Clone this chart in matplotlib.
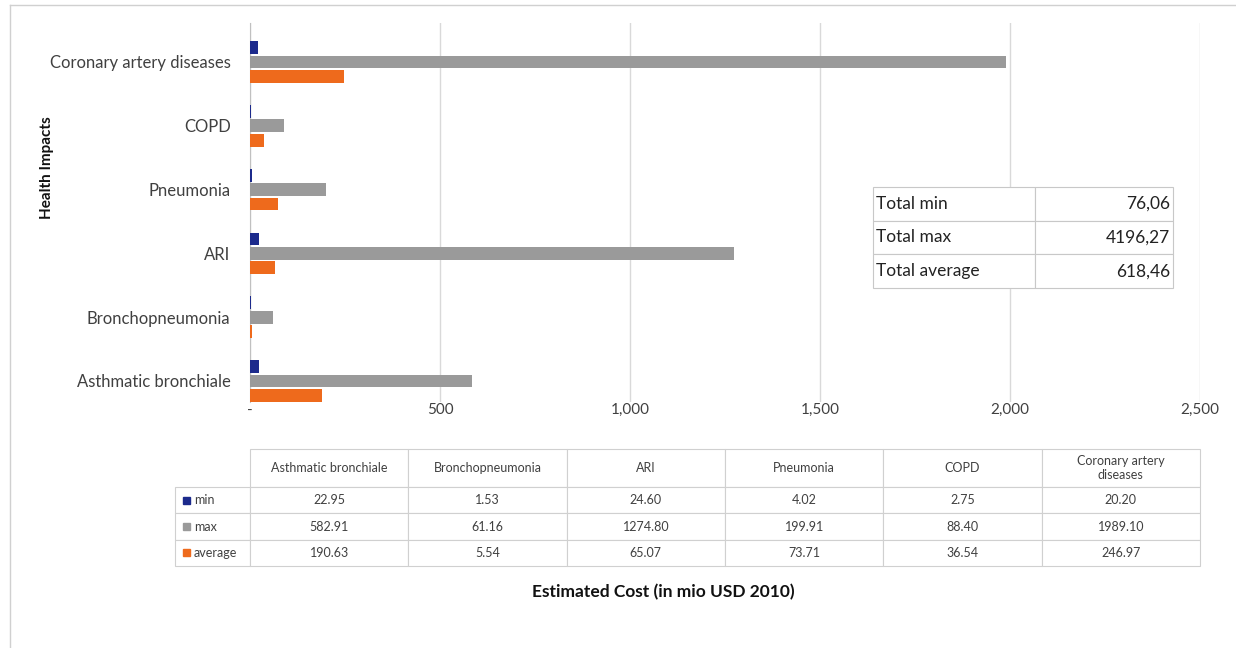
import matplotlib
matplotlib.use("Agg")
import matplotlib.pyplot as plt
from matplotlib.ticker import FuncFormatter
from matplotlib.patches import Rectangle
from matplotlib.lines import Line2D

plt.rcParams['font.family'] = ['Lato', 'DejaVu Sans']

# data
categories = ['Asthmatic bronchiale', 'Bronchopneumonia', 'ARI', 'Pneumonia', 'COPD',
              'Coronary artery diseases']
table_headers = ['Asthmatic bronchiale', 'Bronchopneumonia', 'ARI', 'Pneumonia', 'COPD',
                 'Coronary artery\ndiseases']
min_vals = [22.95, 1.53, 24.60, 4.02, 2.75, 20.20]
max_vals = [582.91, 61.16, 1274.80, 199.91, 88.40, 1989.10]
avg_vals = [190.63, 5.54, 65.07, 73.71, 36.54, 246.97]
series_names = ['min', 'max', 'average']
totals_labels = ['Total min', 'Total max', 'Total average']
totals_values = ['76,06', '4196,27', '618,46']

colors = ['#1C2A8C', '#9A9A9A', '#EE6A1C']

W, H = 1236, 648
fig = plt.figure(figsize=(W / 100, H / 100), dpi=100)


def box(x0, y0, x1, y1):
    # pixel box -> figure fraction [left, bottom, width, height]
    return [x0 / W, 1 - y1 / H, (x1 - x0) / W, (y1 - y0) / H]


# outer frame of the figure
fig.add_artist(Line2D([10 / W, 1], [1 - 5 / H, 1 - 5 / H], color='#d0d0d0', lw=1))
fig.add_artist(Line2D([10 / W, 10 / W], [0, 1 - 5 / H], color='#d0d0d0', lw=1))

# bar chart
ax = fig.add_axes(box(250, 23, 1200, 402))
ypos = list(range(len(categories)))
h = 0.2
off = 0.225
ax.barh([y + off for y in ypos], min_vals, height=h, color=colors[0], zorder=3)
ax.barh(ypos, max_vals, height=h, color=colors[1], zorder=3)
ax.barh([y - off for y in ypos], avg_vals, height=h, color=colors[2], zorder=3,
        clip_on=False)

ax.set_xlim(0, 2500)
ax.set_ylim(-0.33, 5.611)
ax.set_xticks([0, 500, 1000, 1500, 2000, 2500])
ax.xaxis.set_major_formatter(FuncFormatter(lambda v, p: '-' if v == 0 else f'{int(v):,}'))
ax.set_yticks(ypos)
ax.set_yticklabels(categories)
ax.tick_params(axis='y', length=0, pad=14, labelsize=12, labelcolor='#404040')
ax.tick_params(axis='x', length=0, pad=1, labelsize=11, labelcolor='#404040')
ax.grid(axis='x', color='#d9d9d9', lw=1, zorder=0)
for s in ['top', 'right', 'bottom']:
    ax.spines[s].set_visible(False)
ax.spines['left'].set_color('#c0c0c0')

fig.text(47 / W, 1 - 168 / H, 'Health Impacts', rotation=90, fontsize=11,
         fontweight='bold', ha='center', va='center', color='#111111')
fig.text(663 / W, 1 - 592 / H, 'Estimated Cost (in mio USD 2010)', fontsize=12.5,
         fontweight='bold', ha='center', va='center', color='#111111')

# data table under the chart (data cells fill the axes, row labels hang out left)
tax = fig.add_axes(box(250, 449, 1200, 566))
tax.axis('off')
lab_w = 75 / 950
col_w = 1 / 6
cell_text = [[f'{v:.2f}' for v in row] for row in (min_vals, max_vals, avg_vals)]
tbl = tax.table(cellText=cell_text, rowLabels=series_names, colLabels=table_headers,
                cellLoc='center', rowLoc='left', bbox=[0, 0, 1, 1])
tbl._autoColumns = []
tbl.auto_set_font_size(False)
tbl.set_fontsize(9)
for (r, c), cell in tbl.get_celld().items():
    cell.set_edgecolor('#d0d0d0')
    cell.set_linewidth(0.8)
    cell.get_text().set_color('#404040')
    cell.set_width(lab_w if c == -1 else col_w)
    cell.set_height(38 if r == 0 else 26.3)
    if c == -1:
        cell.PAD = 0.25

# legend keys in the row labels
for i, col in enumerate(colors):
    yc = 1 - (38 + 26.3 * i + 13.15) / 117
    tax.add_patch(Rectangle((-67 / 950, yc - 3.5 / 117), 7 / 950, 7 / 117,
                            color=col, transform=tax.transAxes, clip_on=False))

# totals box
sax = fig.add_axes(box(873, 187, 1173, 288))
sax.axis('off')
stbl = sax.table(cellText=[[a, b] for a, b in zip(totals_labels, totals_values)],
                 bbox=[0, 0, 1, 1])
stbl.auto_set_font_size(False)
stbl.set_fontsize(12.5)
for (r, c), cell in stbl.get_celld().items():
    cell.set_edgecolor('#c8c8c8')
    cell.set_linewidth(0.8)
    cell.set_facecolor('white')
    cell.get_text().set_color('#222222')
    cell.set_width(162 / 300 if c == 0 else 138 / 300)
    cell.PAD = 0.02
    cell.get_text().set_ha('left' if c == 0 else 'right')
    cell._loc = 'left' if c == 0 else 'right'

fig.savefig('out.png', dpi=100)
